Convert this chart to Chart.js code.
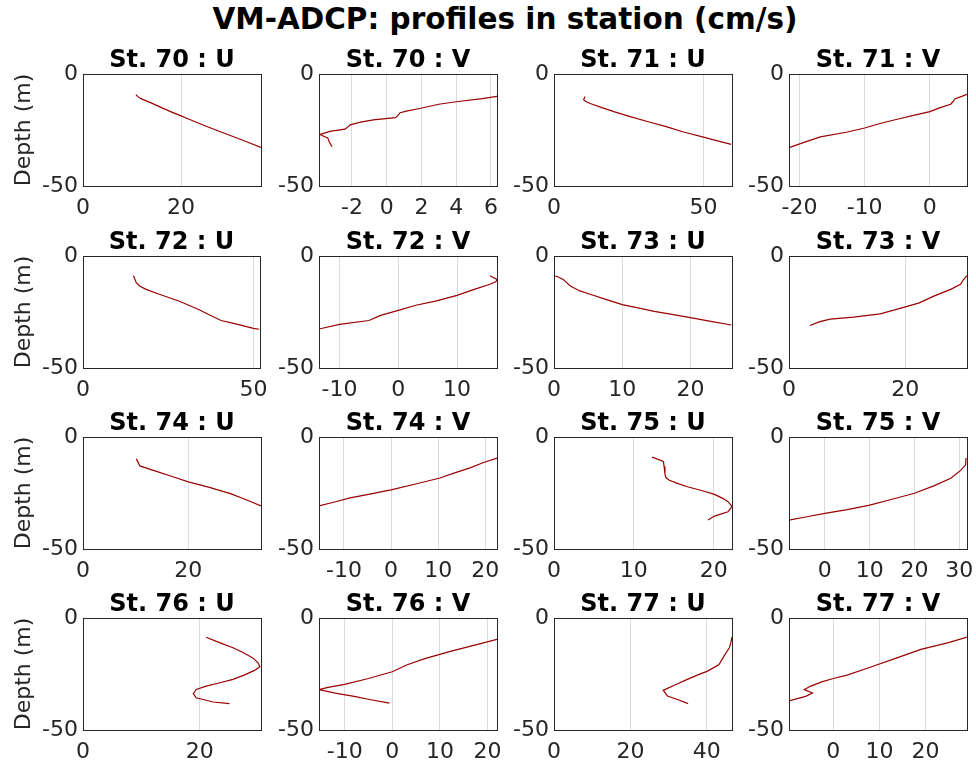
<!DOCTYPE html>
<html>
<head>
<meta charset="utf-8">
<script src="https://cdn.jsdelivr.net/npm/chart.js@4"></script>
<style>
body{margin:0;background:#fff;width:976px;height:764px;position:relative;overflow:hidden}
#ttl{position:absolute;left:0;width:1010px;top:2px;text-align:center;font:bold 29.5px "DejaVu Sans";color:#000}
canvas{position:absolute}
</style>
</head>
<body>
<div id="ttl">VM-ADCP: profiles in station (cm/s)</div>
<script>
// station / component of each panel, row by row
const stations=[70,70,71,71,72,72,73,73,74,74,75,75,76,76,77,77];
const comps=['U','V','U','V','U','V','U','V','U','V','U','V','U','V','U','V'];

// depth (m) and velocity (cm/s)
const z70u=[-9.2,-10,-11,-13,-15,-17,-18.7,-20,-22,-24,-26,-28,-30,-32.8];
const v70u=[10.8,11.1,11.8,14.0,16.0,18.1,20.0,21.4,23.6,25.9,28.3,30.7,33.1,36.3];
const z70v=[-10,-11,-12.4,-13.5,-15.4,-16.5,-17.3,-18.5,-19.5,-20.5,-21.5,-22.7,-24.6,-25.5,-27,-28.5,-30.5,-32.5];
const v70v=[6.35,5.5,4.0,3.0,1.9,1.2,0.77,0.65,0.5,-0.77,-1.5,-2.1,-2.4,-3.2,-3.85,-3.4,-3.3,-3.15];
const z71u=[-10,-11.4,-12.2,-13.2,-15,-16.8,-19,-21.2,-23.5,-26,-28.2,-30,-31.4];
const v71u=[10.4,9.9,10.5,12.1,16,20,25.5,31.2,37.5,43.6,50,55,59.2];
const z71v=[-9.1,-10,-11,-12.5,-13.5,-15,-16.8,-18.5,-20.2,-22,-24.1,-26,-28.1,-30.5,-32.9];
const v71v=[5.7,4.9,3.9,3.5,3.2,1.6,0,-2.5,-5,-7.5,-10,-12.8,-16.8,-19.3,-21.6];
const z72u=[-8.8,-11.8,-13.4,-14.9,-17.1,-20.2,-24.0,-26.2,-28.8,-30.0,-32.3,-32.7];
const v72u=[14.8,15.6,16.6,18.5,22.4,28.3,34.1,37.0,40.5,43.9,50.0,51.7];
const z72v=[-8.8,-10.5,-11.5,-12.6,-15,-17.6,-20,-22,-24.3,-26.5,-28.8,-30.5,-32.6];
const v72v=[15.6,16.8,16.6,15.6,12.8,10,6.5,3,0,-3,-5,-10,-13.5];
const z73u=[-8.8,-9.5,-10.6,-12,-13.4,-15.6,-17.1,-19.5,-21.7,-23.3,-24.7,-26.2,-27.5,-29.2,-30.8];
const v73u=[0,0.7,1.4,1.9,2.4,3.8,5.3,7.7,10,12.5,14.7,17.5,20,23,26];
const z73v=[-8.8,-10.5,-12.6,-14.9,-17.9,-20.9,-22.7,-25.8,-27.3,-28.2,-29.3,-31];
const v73v=[30.6,30.0,29.5,27.8,24.9,22.4,20,15.7,11.1,7.1,5.3,3.6];
const z74u=[-9.7,-11,-12.9,-15,-17.5,-20,-22.5,-25.3,-28,-30.8];
const v74u=[10.1,10.4,10.8,13.5,16.8,20,24,28,31,33.8];
const z74v=[-9.4,-11.5,-13.8,-16,-18.3,-21,-23.6,-25.5,-27.2,-29,-30.8];
const v74v=[22.5,19.5,16.8,13.5,10.4,5.2,0,-4.5,-8.7,-12,-15.3];
const z75u=[-9,-10.9,-13.2,-16.5,-18,-19.2,-20.5,-22.2,-24,-25.6,-27.5,-28.9,-31,-33.4,-35.3,-37.1];
const v75u=[12.3,13.7,13.8,13.9,14.0,14.4,15.3,16.7,18.6,20.1,21.2,21.8,22.3,21.8,20.1,19.3];
const z75v=[-9.4,-12.4,-14.9,-18.4,-21.8,-25.1,-27.8,-30.4,-32.4,-34.1,-35.6,-37.1];
const v75v=[31.5,31.4,30.3,28.1,24.3,20,15,10,5,0,-4,-8];
const z76u=[-8.6,-11,-13.3,-15.5,-17.8,-20,-21.8,-23.5,-25.5,-27.4,-29,-30.4,-31.9,-33.8,-35.6,-37.5,-38.2];
const v76u=[21.1,23.4,25.7,27.5,29.1,30,30.3,29.3,27.6,25.7,23.3,21.1,19.4,18.9,19.4,22.3,25.1];
const z76v=[-9.5,-12,-15,-18,-21,-24,-27,-29.6,-31,-32,-33.5,-35,-36.5,-38];
const v76v=[22,17.5,12,7,3,0,-5,-10,-13.5,-15.4,-12,-8,-4.5,-0.6];
const z77u=[-8.5,-11,-13.3,-17,-20.8,-23.7,-25.5,-27.4,-30,-32.3,-34.8,-36.5,-38.2];
const v77u=[46.6,46.3,45.9,44.5,43.2,40.2,37.5,34.9,31.5,28.6,29.7,32.5,35.1];
const z77v=[-8.5,-11,-14,-18,-22,-25.5,-27,-28.5,-30.5,-32,-33.5,-35,-37];
const v77v=[29,25,19,13.5,8,3,0,-2.5,-5,-6.3,-4.5,-6,-9.6];

const depths=[z70u,z70v,z71u,z71v,z72u,z72v,z73u,z73v,z74u,z74v,z75u,z75v,z76u,z76v,z77u,z77v];
const speeds=[v70u,v70v,v71u,v71v,v72u,v72v,v73u,v73v,v74u,v74v,v75u,v75v,v76u,v76v,v77u,v77v];

// axis limits and tick labels
const xMin=[0,-3.9,0,-21.6,0,-13.5,0,0,0,-15.3,0,-8,0,-15.4,0,-9.6];
const xMax=[36.3,6.35,59.5,5.7,51.9,16.8,26.1,30.6,33.8,22.5,22.3,31.7,30.5,22,46.6,29];
const xTicks=[[0,20],[-2,0,2,4,6],[0,50],[-20,-10,0],[0,50],[-10,0,10],[0,10,20],[0,20],
  [0,20],[-10,0,10,20],[0,10,20],[0,10,20,30],[0,20],[-10,0,10,20],[0,20,40],[0,10,20]];
const yTicks=[-50,0];

// layout of the 4x4 grid (box of each axes)
const colL=[83,319,554,789],rowT=[74,256,437,618],boxW=178,boxH=112;
const PL=80,PR=16,PT=34,PB=36;
const FONT='DejaVu Sans';

// frame around the axes + panel title centred on the axes box
const boxPlugin={id:'box',afterDraw(c,args,opts){
  const a=c.chartArea,ctx=c.ctx;
  ctx.save();ctx.strokeStyle='#262626';ctx.lineWidth=1;
  ctx.strokeRect(Math.round(a.left)+0.5,Math.round(a.top)+0.5,Math.round(a.right-a.left),Math.round(a.bottom-a.top));
  ctx.font='bold 24px "'+FONT+'"';ctx.fillStyle='#000';ctx.textAlign='center';ctx.textBaseline='alphabetic';
  ctx.fillText(opts.text,(a.left+a.right)/2,a.top-7);
  ctx.restore();
}};

for(let i=0;i<16;i++){
  const r=Math.floor(i/4),c=i%4;
  const cv=document.createElement('canvas');
  cv.width=boxW+PL+PR;cv.height=boxH+PT+PB;
  cv.style.left=(colL[c]-PL)+'px';cv.style.top=(rowT[r]-PT)+'px';
  document.body.appendChild(cv);
  const pts=speeds[i].map((v,k)=>({x:v,y:depths[i][k]}));
  new Chart(cv,{
    type:'scatter',
    data:{datasets:[{data:pts,showLine:true,borderColor:'#990000',borderWidth:1.2,pointRadius:0,fill:false,tension:0}]},
    options:{
      responsive:false,animation:false,
      layout:{padding:{left:0,right:PR,top:PT,bottom:0}},
      plugins:{
        legend:{display:false},tooltip:{enabled:false},title:{display:false},
        box:{text:'St. '+stations[i]+' : '+comps[i]}
      },
      scales:{
        x:{type:'linear',min:xMin[i],max:xMax[i],
          afterBuildTicks:s=>{s.ticks=xTicks[i].map(v=>({value:v}));},
          afterFit:s=>{s.height=PB;},
          grid:{color:'#dcdcdc',lineWidth:1,drawTicks:false},
          border:{display:false},
          ticks:{font:{family:FONT,size:22},color:'#262626',padding:9,maxRotation:0,autoSkip:false}},
        y:{type:'linear',min:-50,max:0,
          afterBuildTicks:s=>{s.ticks=yTicks.map(v=>({value:v}));},
          afterFit:s=>{s.width=PL;},
          grid:{display:false,drawTicks:false},
          border:{display:false},
          ticks:{font:{family:FONT,size:22},color:'#262626',padding:5},
          title:{display:c===0,text:'Depth (m)',color:'#262626',font:{family:FONT,size:22},padding:{top:8,bottom:0}}}
      }
    },
    plugins:[boxPlugin]
  });
}
</script>
</body>
</html>
